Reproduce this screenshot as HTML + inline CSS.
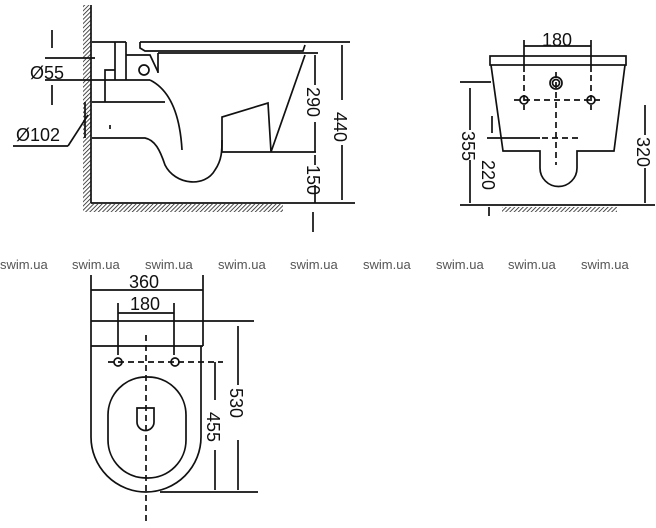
<!DOCTYPE html>
<html><head><style>
html,body{margin:0;padding:0;background:#fff;}
svg{display:block;}
text{font-family:"Liberation Sans",sans-serif;fill:#111;}
</style></head><body>
<svg width="656" height="528" viewBox="0 0 656 528" xmlns="http://www.w3.org/2000/svg">
<defs>
<pattern id="h" width="3" height="3" patternUnits="userSpaceOnUse" patternTransform="rotate(45)">
<rect width="3" height="3" fill="#fff"/><line x1="0" y1="0" x2="0" y2="3" stroke="#222" stroke-width="1.6"/>
</pattern>
</defs>
<g stroke="#111" stroke-width="1.7" fill="none">
<!-- SIDE VIEW -->
<rect x="83" y="5" width="8" height="205" fill="url(#h)" stroke="none"/>
<rect x="83" y="204" width="200" height="8" fill="url(#h)" stroke="none"/>
<line x1="91" y1="5" x2="91" y2="203"/>
<line x1="91" y1="203" x2="355" y2="203"/>
<line x1="313" y1="212" x2="313" y2="232"/>
<line x1="92" y1="42" x2="126" y2="42"/>
<line x1="140" y1="42" x2="350" y2="42"/>
<path d="M140 42 V48 L145 51 H303 L305 45"/>
<line x1="126" y1="42" x2="126" y2="80"/>
<line x1="115" y1="42" x2="115" y2="80"/>
<path d="M126 55 H150 L158 72"/>
<line x1="158" y1="53" x2="158" y2="73"/>
<line x1="158" y1="53" x2="318" y2="53"/>
<circle cx="144" cy="70" r="5"/>
<line x1="45" y1="58" x2="95" y2="58"/>
<line x1="45" y1="80" x2="150" y2="80"/>
<line x1="52" y1="30" x2="52" y2="48"/>
<line x1="52" y1="85" x2="52" y2="105"/>
<path d="M105 102 V70 H115"/>
<path d="M150 80 C170 90 180 115 182 150"/>
<line x1="92" y1="102" x2="165" y2="102"/>
<path d="M92 138 H145 C155 140 160 150 165 165 C175 185 205 188 215 170 C222 160 222 150 222 140"/>
<path d="M222 152 V117 L268 103 L271 152"/>
<line x1="222" y1="152" x2="316" y2="152"/>
<line x1="271" y1="152" x2="305" y2="55"/>
<line x1="110" y1="125" x2="110" y2="129"/>
<line x1="13" y1="146" x2="68" y2="146"/>
<line x1="68" y1="146" x2="88" y2="115"/>
<path d="M85 102 V138"/>
<line x1="315" y1="55" x2="315" y2="85"/>
<line x1="315" y1="122" x2="315" y2="152"/>
<line x1="315" y1="155" x2="315" y2="165"/>
<line x1="315" y1="185" x2="315" y2="203"/>
<line x1="342" y1="45" x2="342" y2="100"/>
<line x1="342" y1="145" x2="342" y2="200"/>
<!-- TOP RIGHT VIEW -->
<rect x="490" y="56" width="136" height="9"/>
<path d="M491 65 L503 151 H540 V168 A18 18 0 0 0 577 168 V151 H614 L625 65"/>
<circle cx="556" cy="83" r="6"/><circle cx="556" cy="83" r="3.5"/>
<circle cx="524" cy="100" r="4"/><circle cx="591" cy="100" r="4"/>
<line x1="524" y1="40" x2="524" y2="72"/>
<line x1="591" y1="40" x2="591" y2="72"/>
<line x1="524" y1="46" x2="591" y2="46"/>
<line x1="460" y1="82" x2="491" y2="82"/>
<line x1="470" y1="88" x2="470" y2="130"/>
<line x1="470" y1="160" x2="470" y2="203"/>
<line x1="492" y1="116" x2="492" y2="133"/>
<line x1="487" y1="138" x2="540" y2="138"/>
<line x1="645" y1="105" x2="645" y2="135"/>
<line x1="645" y1="168" x2="645" y2="203"/>
<line x1="460" y1="205" x2="655" y2="205"/>
<line x1="489" y1="207" x2="489" y2="216"/>
<rect x="502" y="207" width="115" height="5" fill="url(#h)" stroke="none"/>
<g stroke-dasharray="6,4">
<line x1="514" y1="100" x2="600" y2="100"/>
<line x1="556" y1="72" x2="556" y2="165"/>
<line x1="524" y1="75" x2="524" y2="110"/>
<line x1="591" y1="75" x2="591" y2="110"/>
<line x1="542" y1="138" x2="580" y2="138"/>
</g>
<!-- BOTTOM VIEW -->
<line x1="91" y1="275" x2="91" y2="346"/>
<line x1="203" y1="275" x2="203" y2="346"/>
<line x1="91" y1="290" x2="203" y2="290"/>
<line x1="118" y1="303" x2="118" y2="355"/>
<line x1="174" y1="303" x2="174" y2="355"/>
<line x1="118" y1="313" x2="174" y2="313"/>
<line x1="91" y1="321" x2="254" y2="321"/>
<line x1="91" y1="346" x2="203" y2="346"/>
<path d="M91 346 V437 A55 55 0 0 0 201 437 V346"/>
<line x1="160" y1="492" x2="258" y2="492"/>
<rect x="108" y="377" width="78" height="101" rx="38" ry="38"/>
<circle cx="118" cy="362" r="4"/><circle cx="175" cy="362" r="4"/>
<path d="M137 408 H154 V422 A8.5 8.5 0 0 1 137 422 Z"/>
<line x1="238" y1="326" x2="238" y2="385"/>
<line x1="238" y1="440" x2="238" y2="490"/>
<line x1="215" y1="362" x2="215" y2="400"/>
<line x1="215" y1="450" x2="215" y2="490"/>
<g stroke-dasharray="6,4">
<line x1="146" y1="335" x2="146" y2="522"/>
<line x1="108" y1="362" x2="223" y2="362"/>
</g>
</g>
<g font-size="18">
<text x="30" y="79">Ø55</text>
<text x="16" y="141">Ø102</text>
<text transform="translate(307,87) rotate(90)">290</text>
<text transform="translate(307,165) rotate(90)">150</text>
<text transform="translate(334,112) rotate(90)">440</text>
<text x="542" y="46">180</text>
<text transform="translate(462,131) rotate(90)">355</text>
<text transform="translate(482,160) rotate(90)">220</text>
<text transform="translate(637,137) rotate(90)">320</text>
<text x="129" y="288">360</text>
<text x="130" y="310">180</text>
<text transform="translate(230,388) rotate(90)">530</text>
<text transform="translate(207,412) rotate(90)">455</text>
</g>
<g font-size="13">
<text x="0" y="269" style="fill:#555">swim.ua</text>
<text x="72" y="269" style="fill:#555">swim.ua</text>
<text x="145" y="269" style="fill:#555">swim.ua</text>
<text x="218" y="269" style="fill:#555">swim.ua</text>
<text x="290" y="269" style="fill:#555">swim.ua</text>
<text x="363" y="269" style="fill:#555">swim.ua</text>
<text x="436" y="269" style="fill:#555">swim.ua</text>
<text x="508" y="269" style="fill:#555">swim.ua</text>
<text x="581" y="269" style="fill:#555">swim.ua</text>
</g>
</svg>
</body></html>
